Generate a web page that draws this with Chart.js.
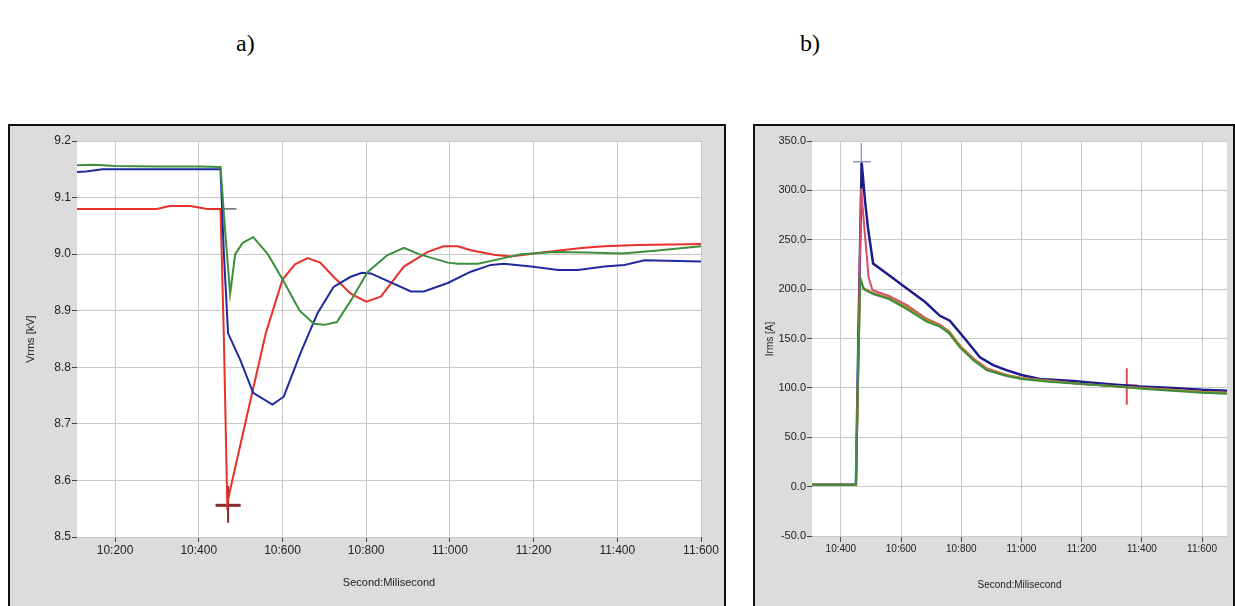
<!DOCTYPE html>
<html>
<head>
<meta charset="utf-8">
<script src="https://cdn.jsdelivr.net/npm/chart.js@4/dist/chart.umd.min.js"></script>
<style>
  html, body { margin:0; padding:0; width:1235px; height:606px; overflow:hidden; background:#fff; }
  .lbl { position:absolute; top:30px; font-family:"Liberation Serif","Times New Roman",serif; font-size:24px; color:#000; }
  .frame { position:absolute; top:124px; height:490px; border:2px solid #111; background:#dcdcdc; box-sizing:border-box; }
  canvas { position:absolute; top:0; left:0; }
</style>
</head>
<body>
<div class="lbl" style="left:236px">a)</div>
<div class="lbl" style="left:800px">b)</div>
<div class="frame" id="frameA" style="left:8px; width:718px;"><canvas id="grafA" width="714" height="486"></canvas></div>
<div class="frame" id="frameB" style="left:753px; width:482px;"><canvas id="grafB" width="478" height="486"></canvas></div>
<script>
// ---- a) Vrms [kV] ----
const aTicksX = [10200, 10400, 10600, 10800, 11000, 11200, 11400, 11600];
const aTicksY = [8.5, 8.6, 8.7, 8.8, 8.9, 9.0, 9.1, 9.2];

const aGreenT = [10109, 10150, 10200, 10300, 10400, 10452, 10462, 10475, 10487, 10505, 10530, 10565, 10602, 10641, 10675, 10700, 10730, 10765, 10803, 10850, 10890, 10926, 10995, 11019, 11067, 11129, 11170, 11250, 11330, 11410, 11490, 11600];
const aGreenV = [9.157, 9.158, 9.156, 9.155, 9.155, 9.154, 9.05, 8.93, 9.0, 9.02, 9.03, 9.0, 8.953, 8.9, 8.877, 8.875, 8.88, 8.92, 8.968, 8.998, 9.011, 9.0, 8.985, 8.983, 8.983, 8.993, 9.0, 9.004, 9.003, 9.001, 9.006, 9.014];

const aRedT = [10109, 10200, 10300, 10330, 10380, 10420, 10452, 10460, 10468, 10480, 10523, 10560, 10600, 10630, 10660, 10690, 10722, 10763, 10800, 10835, 10890, 10947, 10985, 11019, 11050, 11105, 11146, 11210, 11314, 11369, 11450, 11600];
const aRedV = [9.08, 9.08, 9.08, 9.085, 9.085, 9.08, 9.08, 8.85, 8.56, 8.6, 8.74, 8.86, 8.955, 8.982, 8.993, 8.985, 8.96, 8.93, 8.916, 8.925, 8.978, 9.004, 9.014, 9.014, 9.007, 8.999, 8.996, 9.002, 9.011, 9.014, 9.016, 9.018];

const aBlueT = [10109, 10130, 10170, 10300, 10400, 10452, 10460, 10470, 10499, 10530, 10576, 10603, 10643, 10684, 10722, 10763, 10790, 10811, 10907, 10938, 10995, 11050, 11098, 11129, 11194, 11259, 11306, 11369, 11417, 11465, 11600];
const aBlueV = [9.145, 9.146, 9.15, 9.15, 9.15, 9.15, 9.0, 8.86, 8.813, 8.755, 8.734, 8.748, 8.825, 8.896, 8.942, 8.96, 8.967, 8.966, 8.934, 8.934, 8.949, 8.969, 8.981, 8.983, 8.978, 8.972, 8.972, 8.978, 8.981, 8.989, 8.987];

// cursor marks in a)
const aCurLineT = [10440, 10490];
const aCurLineV = [9.08, 9.08];
const aCrossHT = [10440, 10500];
const aCrossHV = [8.556, 8.556];
const aCrossVT = [10470, 10470];
const aCrossVV = [8.59, 8.525];

// ---- b) Irms [A] ----
const bTicksX = [10400, 10600, 10800, 11000, 11200, 11400, 11600];
const bTicksY = [-50, 0, 50, 100, 150, 200, 250, 300, 350];

const bBlueT = [10304, 10450, 10458, 10469, 10480, 10490, 10507, 10560, 10618, 10680, 10729, 10762, 10817, 10862, 10906, 10950, 11000, 11061, 11172, 11283, 11393, 11504, 11600, 11683];
const bBlueV = [2, 2, 150, 328, 290, 262, 226, 214, 201, 187, 173, 168, 148, 131, 123, 118, 113, 109, 107, 104, 101.5, 100, 98, 97];

const bRedT = [10304, 10450, 10458, 10467, 10480, 10492, 10505, 10560, 10618, 10685, 10729, 10760, 10795, 10840, 10884, 10950, 11000, 11100, 11200, 11300, 11400, 11500, 11600, 11683];
const bRedV = [2, 2, 140, 302, 255, 212, 199, 193, 184, 170, 164, 157, 143, 130, 120, 113, 110, 107, 104, 102, 100, 98, 96, 95];

const bGreenT = [10304, 10450, 10458, 10464, 10475, 10507, 10560, 10618, 10685, 10729, 10760, 10795, 10840, 10884, 10950, 11000, 11100, 11200, 11300, 11400, 11500, 11600, 11683];
const bGreenV = [2, 2, 120, 212, 200, 195, 190, 180, 167, 162, 155, 141, 128, 118, 112, 109, 106, 104, 102, 99, 97, 95, 94];

const bOrangeT = [10304, 10450, 10458, 10465, 10476, 10507, 10560, 10618, 10685, 10729, 10760, 10795, 10840, 10884, 10950, 11000, 11100, 11200, 11300, 11400, 11500, 11600, 11683];
const bOrangeV = [2, 2, 125, 210, 201, 196, 191, 182, 169, 163, 157, 143, 129, 119, 113, 110, 107, 104, 102, 100, 98, 96, 95];

// cursor marks in b)
const bCrossAHT = [10440, 10500];
const bCrossAHV = [329, 329];
const bCrossAVT = [10468, 10468];
const bCrossAVV = [348, 318];
const bCrossBHT = [11315, 11385];
const bCrossBHV = [102, 102];
const bCrossBVT = [11350, 11350];
const bCrossBVV = [120, 83];

function pts(ts, vs) {
  return ts.map((t, i) => ({ x: t, y: vs[i] }));
}
function fmtMs(v) {
  return Math.floor(v / 1000) + ':' + String(Math.round(v % 1000)).padStart(3, '0');
}
function line(ts, vs, color, w) {
  return { data: pts(ts, vs), borderColor: color, borderWidth: w || 2, pointRadius: 0, tension: 0, fill: false };
}

const plotBg = {
  id: 'plotBg',
  beforeDraw(chart) {
    const { ctx, chartArea: a } = chart;
    ctx.save();
    ctx.fillStyle = '#ffffff';
    ctx.fillRect(a.left, a.top, a.right - a.left, a.bottom - a.top);
    ctx.restore();
  }
};

function scales(o) {
  return {
    x: {
      type: 'linear', min: o.xmin, max: o.xmax,
      afterBuildTicks: s => { s.ticks = o.tx.map(v => ({ value: v })); },
      afterFit: s => { s.height = 75; },
      grid: { color: '#c8c8c8', tickColor: '#444', tickLength: 5, drawTicks: true },
      border: { display: false },
      ticks: { color: '#222', font: { family: 'Liberation Sans', size: o.fx }, padding: 1, maxRotation: 0, callback: v => fmtMs(v) },
      title: { display: true, text: 'Second:Milisecond', color: '#222', font: { family: 'Liberation Sans', size: o.ft }, padding: { top: 0, bottom: o.xtp } }
    },
    y: {
      min: o.ymin, max: o.ymax,
      afterBuildTicks: s => { s.ticks = o.ty.map(v => ({ value: v })); },
      afterFit: s => { s.width = o.yw; },
      grid: { color: '#c8c8c8', tickColor: '#444', tickLength: 5 },
      border: { display: false },
      ticks: { color: '#222', font: { family: 'Liberation Sans', size: o.fy }, padding: 1, callback: v => v.toFixed(1) },
      title: { display: true, text: o.ytitle, color: '#222', font: { family: 'Liberation Sans', size: o.ft }, padding: { top: o.ytp, bottom: 0 } }
    }
  };
}

new Chart(document.getElementById('grafA'), {
  type: 'line',
  data: {
    datasets: [
      line(aGreenT, aGreenV, '#3c8f3c'),
      line(aBlueT, aBlueV, '#1f2a9c'),
      line(aRedT, aRedV, '#e8312a'),
      line(aCurLineT, aCurLineV, '#666666', 1.5),
      line(aCrossHT, aCrossHV, '#8a2a2a', 3),
      line(aCrossVT, aCrossVV, '#8a2a2a', 2)
    ]
  },
  options: {
    responsive: false, animation: false,
    layout: { padding: { left: 0, top: 15, right: 23, bottom: 0 } },
    plugins: { legend: { display: false }, tooltip: { enabled: false } },
    scales: scales({ xmin: 10109, xmax: 11600, ymin: 8.5, ymax: 9.2, tx: aTicksX, ty: aTicksY, fx: 12, fy: 12, ft: 11, yw: 67, ytitle: 'Vrms [kV]', ytp: 14, xtp: 22 })
  },
  plugins: [plotBg]
});

new Chart(document.getElementById('grafB'), {
  type: 'line',
  data: {
    datasets: [
      line(bGreenT, bGreenV, '#3c8c3c'),
      line(bOrangeT, bOrangeV, '#b0862c'),
      line(bRedT, bRedV, '#d2506e'),
      line(bBlueT, bBlueV, '#1c1c8c', 2.5),
      line(bCrossAHT, bCrossAHV, '#8c9cc0', 1.5),
      line(bCrossAVT, bCrossAVV, '#8c9cc0', 1.5),
      line(bCrossBHT, bCrossBHV, 'rgba(200,40,40,0.8)', 3),
      line(bCrossBVT, bCrossBVV, 'rgba(200,40,40,0.8)', 2)
    ]
  },
  options: {
    responsive: false, animation: false,
    layout: { padding: { left: 0, top: 15, right: 6, bottom: 0 } },
    plugins: { legend: { display: false }, tooltip: { enabled: false } },
    scales: scales({ xmin: 10304, xmax: 11683, ymin: -51, ymax: 350, tx: bTicksX, ty: bTicksY, fx: 10, fy: 11, ft: 10, yw: 57, ytitle: 'Irms [A]', ytp: 9, xtp: 21 })
  },
  plugins: [plotBg]
});
</script>
</body>
</html>
